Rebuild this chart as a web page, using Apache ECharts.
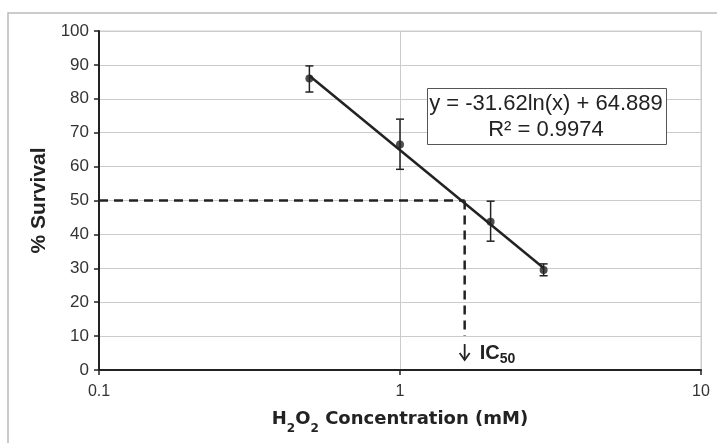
<!DOCTYPE html>
<html><head><meta charset="utf-8">
<script src="https://cdn.jsdelivr.net/npm/echarts@6/dist/echarts.min.js"></script>
<style>html,body{margin:0;padding:0;background:#fff}#c{width:717px;height:443px}</style>
</head><body><div id="c"></div>
<script>
var concentrations = [0.5, 1, 2, 3];
var survival = [86.0, 66.5, 43.7, 29.5];
var errLow = [82.0, 59.2, 38.0, 27.8];
var errHigh = [89.7, 74.0, 49.8, 31.3];
var trendX = [0.5, 3];
var trendY = [86.8, 30.1];
var ic50X = 1.64;
var ic50Y = 50;
var ic50LineEnd = 10;
var ic50LabelY = 5;
var xTicks = [0.1, 1, 10];
var equationText = ['y = -31.62ln(x) + 64.889', 'R² = 0.9974'];

var font = 'Liberation Sans, Arial, sans-serif';
var chart = echarts.init(document.getElementById('c'), null, {renderer: 'canvas'});
var pts = concentrations.map(function (x, i) { return [x, survival[i]]; });
var errs = concentrations.map(function (x, i) { return [x, errLow[i], errHigh[i]]; });
var trend = trendX.map(function (x, i) { return [x, trendY[i]]; });

chart.setOption({
  animation: false,
  backgroundColor: '#fff',
  graphic: [
    {type: 'polyline', shape: {points: [[8, 443], [8, 13], [717, 13]]}, style: {stroke: '#bbb', lineWidth: 1.5, fill: null}, silent: true},
    {type: 'rect', left: 427, top: 88, shape: {width: 239, height: 56}, style: {fill: '#fff', stroke: '#555', lineWidth: 1}, z: 10},
    {type: 'text', x: 546, y: 104, style: {text: equationText[0], font: '22px ' + font, fill: '#222', textAlign: 'center', textVerticalAlign: 'middle'}, z: 11},
    {type: 'text', x: 546, y: 130, style: {text: equationText[1], font: '22px ' + font, fill: '#222', textAlign: 'center', textVerticalAlign: 'middle'}, z: 11}
  ],
  grid: {left: 99, right: 16, top: 31, bottom: 73, show: true, borderColor: '#ccc', borderWidth: 1},
  xAxis: {
    type: 'log', logBase: 10, min: xTicks[0], max: xTicks[xTicks.length - 1],
    name: '{a|H}{s|2}{a|O}{s|2}{a| Concentration (mM)}', nameLocation: 'middle', nameGap: 40,
    nameTextStyle: {rich: {
      a: {fontFamily: 'DejaVu Sans', fontSize: 18, fontWeight: 'bold', color: '#222'},
      s: {fontFamily: 'DejaVu Sans', fontSize: 12, fontWeight: 'bold', color: '#222', verticalAlign: 'bottom', padding: [0, 0, -7, 0]}
    }},
    axisLine: {lineStyle: {color: '#222', width: 2}},
    axisTick: {show: true, length: 5, lineStyle: {color: '#222', width: 1.5}},
    minorTick: {show: false},
    axisLabel: {color: '#333', fontFamily: font, fontSize: 16, margin: 14,
      formatter: function (v) { return String(v); }},
    splitLine: {show: true, lineStyle: {color: '#ccc', width: 1}}
  },
  yAxis: {
    type: 'value', min: 0, max: 100, interval: 10,
    name: '% Survival', nameLocation: 'middle', nameGap: 45,
    nameTextStyle: {fontFamily: font, fontSize: 21, fontWeight: 'bold', color: '#222'},
    axisLine: {show: true, lineStyle: {color: '#222', width: 2}},
    axisTick: {show: true, length: 5, lineStyle: {color: '#222', width: 1.5}},
    axisLabel: {color: '#333', fontFamily: font, fontSize: 17, margin: 10},
    splitLine: {show: true, lineStyle: {color: '#ccc', width: 1}}
  },
  series: [
    {type: 'line', data: [[xTicks[0], ic50Y], [ic50X, ic50Y]], symbol: 'none',
      lineStyle: {color: '#222', width: 2.5, type: [9, 6]}, z: 3},
    {type: 'line', data: [[ic50X, ic50Y], [ic50X, ic50LineEnd]], symbol: 'none',
      lineStyle: {color: '#222', width: 2.5, type: [9, 6]}, z: 3},
    {type: 'custom', data: [[ic50X, ic50LabelY]], z: 4, clip: false,
      renderItem: function (params, api) {
        var p = api.coord([api.value(0), api.value(1)]);
        var x = p[0], y = p[1];
        return {type: 'group', children: [
          {type: 'line', shape: {x1: x, y1: y - 9, x2: x, y2: y + 7}, style: {stroke: '#222', lineWidth: 1.8}},
          {type: 'polyline', shape: {points: [[x - 5, y], [x, y + 7], [x + 5, y]]}, style: {stroke: '#222', lineWidth: 1.8, fill: null}},
          {type: 'text', x: x + 15, y: y, style: {text: 'IC', font: 'bold 20px ' + font, fill: '#222', textAlign: 'left', textVerticalAlign: 'middle'}},
          {type: 'text', x: x + 35, y: y + 6, style: {text: '50', font: 'bold 14px ' + font, fill: '#222', textAlign: 'left', textVerticalAlign: 'middle'}}
        ]};
      }},
    {type: 'line', data: trend, symbol: 'none', lineStyle: {color: '#222', width: 2.5}, z: 5},
    {type: 'custom', data: errs, z: 6,
      renderItem: function (params, api) {
        var x = api.value(0);
        var lo = api.coord([x, api.value(1)]);
        var hi = api.coord([x, api.value(2)]);
        var w = 4;
        return {type: 'group', children: [
          {type: 'line', shape: {x1: lo[0], y1: lo[1], x2: hi[0], y2: hi[1]}, style: {stroke: '#222', lineWidth: 1.5}},
          {type: 'line', shape: {x1: lo[0] - w, y1: lo[1], x2: lo[0] + w, y2: lo[1]}, style: {stroke: '#222', lineWidth: 1.5}},
          {type: 'line', shape: {x1: hi[0] - w, y1: hi[1], x2: hi[0] + w, y2: hi[1]}, style: {stroke: '#222', lineWidth: 1.5}}
        ]};
      }},
    {type: 'scatter', data: pts, symbol: 'circle', symbolSize: 8, itemStyle: {color: '#222'}, z: 7}
  ]
});
</script></body></html>
